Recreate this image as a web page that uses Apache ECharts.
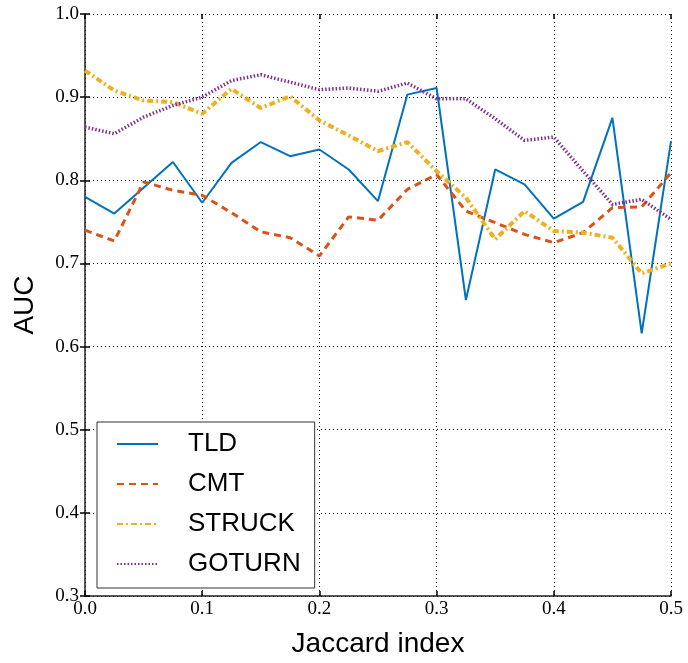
<!DOCTYPE html>
<html>
<head>
<meta charset="utf-8">
<script src="https://cdn.jsdelivr.net/npm/echarts@6/dist/echarts.min.js"></script>
<style>html,body{margin:0;padding:0;background:#fff;}#c{width:688px;height:663px;}</style>
</head>
<body>
<div id="c"></div>
<script>
var jaccard = [0.0, 0.025, 0.05, 0.075, 0.1, 0.125, 0.15, 0.175, 0.2, 0.225, 0.25, 0.275, 0.3, 0.325, 0.35, 0.375, 0.4, 0.425, 0.45, 0.475, 0.5];
var tld    = [0.780, 0.760, 0.791, 0.822, 0.773, 0.821, 0.846, 0.829, 0.837, 0.813, 0.775, 0.903, 0.911, 0.656, 0.813, 0.795, 0.754, 0.774, 0.875, 0.616, 0.847];
var cmt    = [0.740, 0.727, 0.798, 0.788, 0.782, 0.761, 0.738, 0.731, 0.709, 0.756, 0.752, 0.789, 0.807, 0.763, 0.749, 0.735, 0.725, 0.737, 0.767, 0.768, 0.809];
var struck = [0.932, 0.908, 0.896, 0.894, 0.880, 0.910, 0.887, 0.901, 0.872, 0.854, 0.835, 0.846, 0.811, 0.779, 0.729, 0.763, 0.739, 0.737, 0.731, 0.688, 0.700];
var goturn = [0.864, 0.856, 0.876, 0.890, 0.900, 0.920, 0.927, 0.918, 0.909, 0.911, 0.907, 0.917, 0.898, 0.898, 0.874, 0.848, 0.852, 0.811, 0.771, 0.777, 0.753];
var seriesNames = ['TLD', 'CMT', 'STRUCK', 'GOTURN'];
var xTickLabels = ['0.0', '0.1', '0.2', '0.3', '0.4', '0.5'];
var yTickLabels = ['0.3', '0.4', '0.5', '0.6', '0.7', '0.8', '0.9', '1.0'];

function pairs(ys) { return ys.map(function (v, i) { return [jaccard[i], v]; }); }

var serif = '"Liberation Serif", "DejaVu Serif", serif';
var sans = '"Liberation Sans", Arial, sans-serif';

var chart = echarts.init(document.getElementById('c'), null, {renderer: 'canvas'});
var gridLine = {show: true, showMinLine: true, showMaxLine: true, lineStyle: {color: '#000', type: [1, 3], width: 1}};
var tickIn = {show: true, inside: true, length: 5, lineStyle: {color: '#000', width: 1.5}};
var axLine = {show: true, onZero: false, lineStyle: {color: '#222', width: 1.5}};

chart.setOption({
  backgroundColor: '#fff',
  animation: false,
  grid: {left: 85, right: 17, top: 14, bottom: 61, containLabel: false},
  xAxis: [{
    type: 'value', min: 0, max: 0.5, interval: 0.1, position: 'bottom',
    name: 'Jaccard index', nameLocation: 'middle', nameGap: 34,
    nameTextStyle: {fontFamily: sans, fontSize: 28, color: '#000'},
    axisLine: axLine, axisTick: tickIn, splitLine: gridLine,
    axisLabel: {margin: 4, fontFamily: serif, fontSize: 19, color: '#000',
      formatter: function (v) { return xTickLabels[Math.round(v * 10)]; }}
  }, {
    type: 'value', min: 0, max: 0.5, interval: 0.1, position: 'top',
    axisLine: {show: false}, axisTick: tickIn, splitLine: {show: false}, axisLabel: {show: false}
  }],
  yAxis: [{
    type: 'value', min: 0.3, max: 1.0, interval: 0.1, position: 'left',
    name: 'AUC', nameLocation: 'middle', nameGap: 46, nameRotate: 90,
    nameTextStyle: {fontFamily: sans, fontSize: 28, color: '#000'},
    axisLine: axLine, axisTick: tickIn, splitLine: gridLine,
    axisLabel: {margin: 6, fontFamily: serif, fontSize: 19, color: '#000',
      formatter: function (v) { return yTickLabels[Math.round(v * 10) - 3]; }}
  }, {
    type: 'value', min: 0.3, max: 1.0, interval: 0.1, position: 'right',
    axisLine: {show: false}, axisTick: tickIn, splitLine: {show: false}, axisLabel: {show: false}
  }],
  legend: {
    orient: 'vertical', left: 97, top: 422,
    backgroundColor: '#fff', borderColor: '#333', borderWidth: 1,
    padding: [9, 14, 11, 19], itemGap: 14, itemWidth: 41, itemHeight: 14,
    itemStyle: {opacity: 0, borderWidth: 0},
    textStyle: {fontFamily: sans, fontSize: 26, color: '#000', padding: [0, 0, 0, 25]},
    data: seriesNames
  },
  series: [
    {name: seriesNames[0], type: 'line', data: pairs(tld), symbol: 'none', color: '#0072BD',
      lineStyle: {width: 2, color: '#0072BD', type: 'solid'}},
    {name: seriesNames[1], type: 'line', data: pairs(cmt), symbol: 'none', color: '#D95319',
      lineStyle: {width: 3, color: '#D95319', type: [7, 5]}},
    {name: seriesNames[2], type: 'line', data: pairs(struck), symbol: 'none', color: '#EDB120',
      lineStyle: {width: 4, color: '#EDB120', type: [6, 3, 2, 3]}},
    {name: seriesNames[3], type: 'line', data: pairs(goturn), symbol: 'none', color: '#7E2F8E',
      lineStyle: {width: 3.5, color: '#7E2F8E', type: [1.5, 2]}}
  ]
});
</script>
</body>
</html>
